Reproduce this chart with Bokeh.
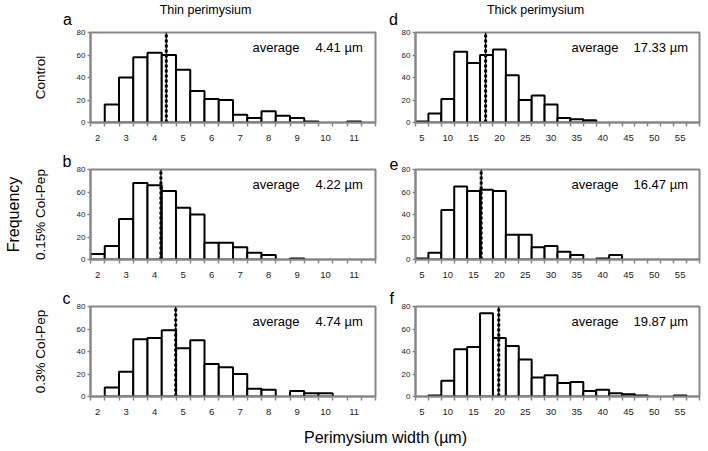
import math
from bokeh.plotting import figure
from bokeh.models import FixedTicker, Label, ColumnDataSource, Range1d, LinearAxis
from bokeh.layouts import column, row
from bokeh.embed import file_html
from bokeh.resources import INLINE

# ---------------- data ----------------
thin_bins = [2.0, 2.5, 3.0, 3.5, 4.0, 4.5, 5.0, 5.5, 6.0, 6.5,
             7.0, 7.5, 8.0, 8.5, 9.0, 9.5, 10.0, 10.5, 11.0, 11.5]
thick_bins = [5.0, 7.5, 10.0, 12.5, 15.0, 17.5, 20.0, 22.5, 25.0, 27.5, 30.0,
              32.5, 35.0, 37.5, 40.0, 42.5, 45.0, 47.5, 50.0, 52.5, 55.0, 57.5]

thin_ticks = [2, 3, 4, 5, 6, 7, 8, 9, 10, 11]
thick_ticks = [5, 10, 15, 20, 25, 30, 35, 40, 45, 50, 55]
y_ticks = [0, 20, 40, 60, 80]

thin_control = [0, 16, 40, 58, 62, 60, 47, 28, 21, 20, 7, 4, 10, 6, 4, 1, 0, 0, 1, 0]
thin_015 = [5, 12, 36, 68, 66, 61, 46, 40, 15, 15, 11, 6, 4, 0, 1, 0, 0, 0, 0, 0]
thin_03 = [0, 8, 22, 51, 52, 59, 43, 50, 29, 26, 20, 7, 6, 0, 5, 3, 3, 0, 0, 0]

thick_control = [1, 8, 21, 63, 53, 60, 65, 42, 20, 24, 16, 4, 3, 2, 0, 0, 0, 0, 0, 0, 0, 0]
thick_015 = [1, 6, 44, 65, 61, 62, 61, 22, 22, 11, 12, 7, 4, 0, 1, 4, 0, 0, 0, 0, 0, 0]
thick_03 = [0, 1, 14, 42, 44, 74, 52, 45, 33, 17, 19, 12, 13, 5, 6, 3, 2, 1, 0, 0, 1, 0]

thin_avg = [4.41, 4.22, 4.74]
thick_avg = [17.33, 16.47, 19.87]

letters_thin = ["a", "b", "c"]
letters_thick = ["d", "e", "f"]
row_names = ["Control", "0.15% Col-Pep", "0.3% Col-Pep"]
col_titles = ["Thin perimysium", "Thick perimysium"]
x_title = "Perimysium width (\u00b5m)"
y_title = "Frequency"

# ---------------- style ----------------
FONT = "Liberation Sans"
GRAY = "#878787"
TXT = "#222222"
LETTER_SIZE = "16px"


def make_panel(bins, counts, avg, ticks, bin_w, fw, fh, bl, br, bt, bb,
               letter, letter_off, avg_x, val_x, rowname=None, ylab=False):
    half = bin_w / 2.0
    xr = Range1d(bins[0] - half, bins[-1] + half)
    p = figure(width=fw, height=fh, x_range=xr, y_range=Range1d(0, 80),
               output_backend="svg", toolbar_location=None,
               min_border_left=bl, min_border_right=br,
               min_border_top=bt, min_border_bottom=bb)
    p.xgrid.visible = False
    p.ygrid.visible = False
    p.outline_line_color = GRAY
    p.outline_line_width = 2
    p.background_fill_color = "white"

    xs = [b for b, c in zip(bins, counts) if c > 0]
    cs = [c for c in counts if c > 0]
    src = ColumnDataSource(dict(x=xs, top=cs))
    p.vbar(x="x", top="top", width=bin_w, bottom=0, source=src,
           fill_color="white", line_color="black", line_width=2)

    p.segment(x0=[avg], y0=[0], x1=[avg], y1=[80], line_color="black", line_width=1.2)
    p.segment(x0=[avg], y0=[0], x1=[avg], y1=[80], line_color="black", line_width=3,
              line_dash="3 2")

    minor = [bins[0] - half + bin_w * k for k in range(len(bins) + 1)]
    xa = p.xaxis[0]
    xa.ticker = FixedTicker(ticks=ticks, minor_ticks=minor)
    xa.axis_line_color = GRAY
    xa.axis_line_width = 2
    xa.major_tick_line_color = None
    xa.minor_tick_line_color = GRAY
    xa.minor_tick_line_width = 1.5
    xa.minor_tick_out = 4
    xa.minor_tick_in = 0
    xa.major_label_standoff = 6
    xa.major_label_text_font = FONT
    xa.major_label_text_font_size = "9.5px"
    xa.major_label_text_color = TXT

    ya = p.yaxis[0]
    ya.ticker = FixedTicker(ticks=y_ticks)
    ya.axis_line_color = GRAY
    ya.axis_line_width = 2
    ya.major_tick_line_color = GRAY
    ya.major_tick_line_width = 1.5
    ya.major_tick_out = 3
    ya.major_tick_in = 0
    ya.minor_tick_line_color = None
    ya.major_label_standoff = 2
    ya.major_label_text_font = FONT
    ya.major_label_text_font_size = "8px"
    ya.major_label_text_color = TXT

    if rowname is not None:
        ya.axis_label = rowname
        ya.axis_label_standoff = 26
        ya.axis_label_text_font = FONT
        ya.axis_label_text_font_size = "13.5px"
        ya.axis_label_text_font_style = "normal"
        ya.axis_label_text_color = "black"
    if ylab:
        ax2 = LinearAxis(ticker=FixedTicker(ticks=[]), axis_line_color=None,
                         major_tick_line_color=None, minor_tick_line_color=None,
                         major_tick_out=0, major_tick_in=0, minor_tick_out=0, minor_tick_in=0,
                         major_label_standoff=0,
                         axis_label=y_title, axis_label_standoff=8,
                         axis_label_text_font=FONT, axis_label_text_font_size="16px",
                         axis_label_text_font_style="normal", axis_label_text_color="black")
        p.add_layout(ax2, "left")

    if letter is not None:
        p.title.text = letter
        p.title.align = "left"
        p.title.offset = letter_off
        p.title.standoff = 0
        p.title.text_font = FONT
        p.title.text_font_size = LETTER_SIZE
        p.title.text_font_style = "normal"
        p.title.text_color = "black"

    fh_frame = fh - bt - bb
    p.add_layout(Label(x=avg_x, y=fh_frame - 15, x_units="screen", y_units="screen",
                       text="average", text_font=FONT, text_font_size="13px",
                       text_align="left", text_baseline="middle", text_color="black"))
    p.add_layout(Label(x=val_x, y=fh_frame - 15, x_units="screen", y_units="screen",
                       text="%.2f \u00b5m" % avg, text_font=FONT, text_font_size="13px",
                       text_align="left", text_baseline="middle", text_color="black"))
    return p


LW, RW = 382, 322
TW = LW + RW

# header strip: column headings and the first-row panel letters
HH = 27
head = figure(width=TW, height=HH, x_range=Range1d(0, TW), y_range=Range1d(0, HH),
              output_backend="svg", toolbar_location=None, min_border=0,
              x_axis_location=None, y_axis_location=None)
head.xgrid.visible = False
head.ygrid.visible = False
head.outline_line_color = None
head.add_layout(Label(x=205, y=HH - 9, text=col_titles[0], text_font=FONT,
                      text_font_size="12.5px", text_align="center", text_baseline="middle",
                      text_color="black"))
head.add_layout(Label(x=535, y=HH - 9, text=col_titles[1], text_font=FONT,
                      text_font_size="12.5px", text_align="center", text_baseline="middle",
                      text_color="black"))
head.add_layout(Label(x=67, y=0, text=letters_thin[0], text_font=FONT,
                      text_font_size=LETTER_SIZE, text_align="center",
                      text_baseline="bottom", text_color="black"))
head.add_layout(Label(x=393, y=0, text=letters_thick[0], text_font=FONT,
                      text_font_size=LETTER_SIZE, text_align="center",
                      text_baseline="bottom", text_color="black"))

heights = [119, 137, 137]
tops = [5, 23, 23]
bottoms = [24, 24, 24]
thin_sets = [thin_control, thin_015, thin_03]
thick_sets = [thick_control, thick_015, thick_03]

rows = [head]
for i in range(3):
    pl = make_panel(thin_bins, thin_sets[i], thin_avg[i], thin_ticks, 0.5,
                    LW, heights[i], 90, 7, tops[i], bottoms[i],
                    letters_thin[i] if i > 0 else None, -28,
                    162, 225, rowname=row_names[i], ylab=(i == 1))
    pr = make_panel(thick_bins, thick_sets[i], thick_avg[i], thick_ticks, 2.5,
                    RW, heights[i], 33, 5, tops[i], bottoms[i],
                    letters_thick[i] if i > 0 else None, -26,
                    156, 218)
    rows.append(row(pl, pr))

BH = 30
bot = figure(width=TW, height=BH, x_range=Range1d(0, TW), y_range=Range1d(0, BH),
             output_backend="svg", toolbar_location=None, min_border=0,
             x_axis_location=None, y_axis_location=None)
bot.xgrid.visible = False
bot.ygrid.visible = False
bot.outline_line_color = None
bot.add_layout(Label(x=385, y=BH - 17, text=x_title, text_font=FONT, text_font_size="16px",
                     text_align="center", text_baseline="middle", text_color="black"))
rows.append(bot)

layout = column(*rows)
open("out.html", "w").write(file_html(layout, INLINE))
